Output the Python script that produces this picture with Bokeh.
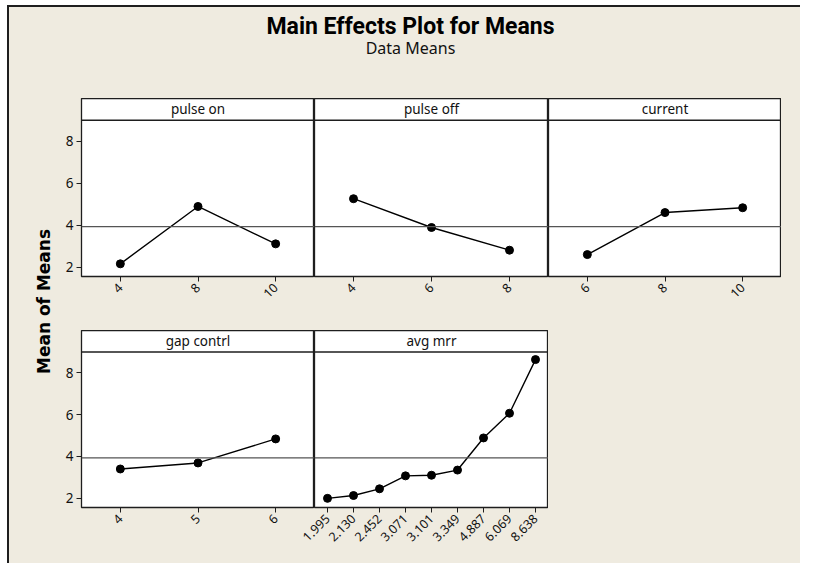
import math
from bokeh.plotting import figure
from bokeh.models import FactorRange, Range1d, Span, Label, FixedTicker, Spacer
from bokeh.layouts import row, column
from bokeh.embed import file_html
from bokeh.resources import INLINE

# ---------------- data ----------------
title_text = "Main Effects Plot for Means"
subtitle_text = "Data Means"
y_label_text = "Mean of Means"

pulse_on_levels = ["4", "8", "10"]
pulse_on_means = [2.16, 4.89, 3.11]

pulse_off_levels = ["4", "6", "8"]
pulse_off_means = [5.26, 3.89, 2.81]

current_levels = ["6", "8", "10"]
current_means = [2.60, 4.60, 4.83]

gap_levels = ["4", "5", "6"]
gap_means = [3.40, 3.69, 4.84]

mrr_levels = ["1.995", "2.130", "2.452", "3.071", "3.101", "3.349", "4.887", "6.069", "8.638"]
mrr_means = [1.995, 2.130, 2.452, 3.071, 3.101, 3.349, 4.887, 6.069, 8.638]

grand_mean = 3.93
y_ticks = [2, 4, 6, 8]

# ---------------- style ----------------
BG = "#EFEBE0"
EDGE = "#1e1e1e"
TICK_FONT = "Noto Sans"
Y0, Y1 = 1.557, 10.03
STRIP_AT = 9.0


def panel(name, levels, means, show_y, frame_w, frame_h, border_b, left_pad=0):
    kw = dict(x_range=FactorRange(factors=levels), y_range=Range1d(Y0, Y1),
              frame_width=frame_w, frame_height=frame_h,
              output_backend="svg", toolbar_location=None,
              min_border_left=26 if show_y else left_pad, min_border_right=0,
              min_border_top=0, min_border_bottom=border_b)
    if not show_y:
        kw["y_axis_location"] = None
    if left_pad:
        kw["margin"] = (0, 0, 0, -left_pad)
    p = figure(**kw)
    p.background_fill_color = "white"
    p.border_fill_color = BG
    if left_pad:
        p.border_fill_alpha = 0
    p.outline_line_color = EDGE
    p.outline_line_width = 1.3
    p.grid.visible = False

    p.xaxis.axis_line_color = None
    p.xaxis.major_tick_line_color = EDGE
    p.xaxis.major_tick_out = 5
    p.xaxis.major_tick_in = 0
    p.xaxis.minor_tick_line_color = None
    p.xaxis.major_label_orientation = math.pi / 4
    p.xaxis.major_label_text_font = TICK_FONT
    p.xaxis.major_label_text_font_size = "12.5px"
    p.xaxis.major_label_text_color = "#111"
    p.xaxis.major_label_standoff = 4
    if show_y:
        p.yaxis.ticker = FixedTicker(ticks=y_ticks)
        p.yaxis.axis_line_color = None
        p.yaxis.major_tick_line_color = EDGE
        p.yaxis.major_tick_out = 5
        p.yaxis.major_tick_in = 0
        p.yaxis.minor_tick_line_color = None
        p.yaxis.major_label_text_font = TICK_FONT
        p.yaxis.major_label_text_font_size = "13.5px"
        p.yaxis.major_label_text_color = "#111"
        p.yaxis.major_label_standoff = 3

    p.add_layout(Span(location=grand_mean, dimension="width",
                      line_color="#555555", line_width=1.3))
    p.add_layout(Span(location=STRIP_AT, dimension="width",
                      line_color=EDGE, line_width=1.5))
    p.add_layout(Label(x=len(levels) / 2, y=(STRIP_AT + Y1) / 2, text=name,
                       text_align="center", text_baseline="middle",
                       text_font=TICK_FONT, text_font_size="13.5px", text_color="#111"))

    p.line(levels, means, line_color="black", line_width=1.4)
    p.scatter(levels, means, size=8, fill_color="black", line_color="black")
    return p


def blank(w, h):
    f = figure(width=w, height=h, x_range=Range1d(0, w), y_range=Range1d(0, h),
               output_backend="svg", toolbar_location=None, min_border=0,
               x_axis_location=None, y_axis_location=None)
    f.grid.visible = False
    f.outline_line_color = None
    f.background_fill_color = BG
    f.border_fill_color = BG
    return f


# header
header = blank(791, 91)
header.add_layout(Label(x=401, y=72, text=title_text, text_align="center",
                        text_baseline="middle", text_font="Roboto",
                        text_font_style="bold", text_font_size="23px", text_color="black"))
header.add_layout(Label(x=401, y=51, text=subtitle_text, text_align="center",
                        text_baseline="middle", text_font=TICK_FONT,
                        text_font_size="16px", text_color="#111"))

# left y label
left = blank(46, 465)
left.add_layout(Label(x=34, y=262, text=y_label_text, angle=math.pi / 2,
                      text_align="center", text_baseline="middle",
                      text_font="DejaVu Sans", text_font_style="bold",
                      text_font_size="17px", text_color="black"))

p1 = panel("pulse on", pulse_on_levels, pulse_on_means, True, 233, 178, 54)
p2 = panel("pulse off", pulse_off_levels, pulse_off_means, False, 234, 178, 54)
p3 = panel("current", current_levels, current_means, False, 233, 178, 54)
p4 = panel("gap contrl", gap_levels, gap_means, True, 233, 177, 56)
p5 = panel("avg mrr", mrr_levels, mrr_means, False, 234, 177, 56, left_pad=16)

row1 = row(p1, p2, p3, blank(19, 232))
row2 = row(p4, p5, blank(252, 233))
body = row(left, column(row1, row2))
framed = column(header, body,
                styles={"border-top": "2px solid #1e1e1e", "border-left": "2px solid #1e1e1e",
                        "background-color": BG})
root = column(Spacer(width=800, height=5), row(Spacer(width=7, height=558), framed))

open("out.html", "w").write(file_html(root, INLINE))
